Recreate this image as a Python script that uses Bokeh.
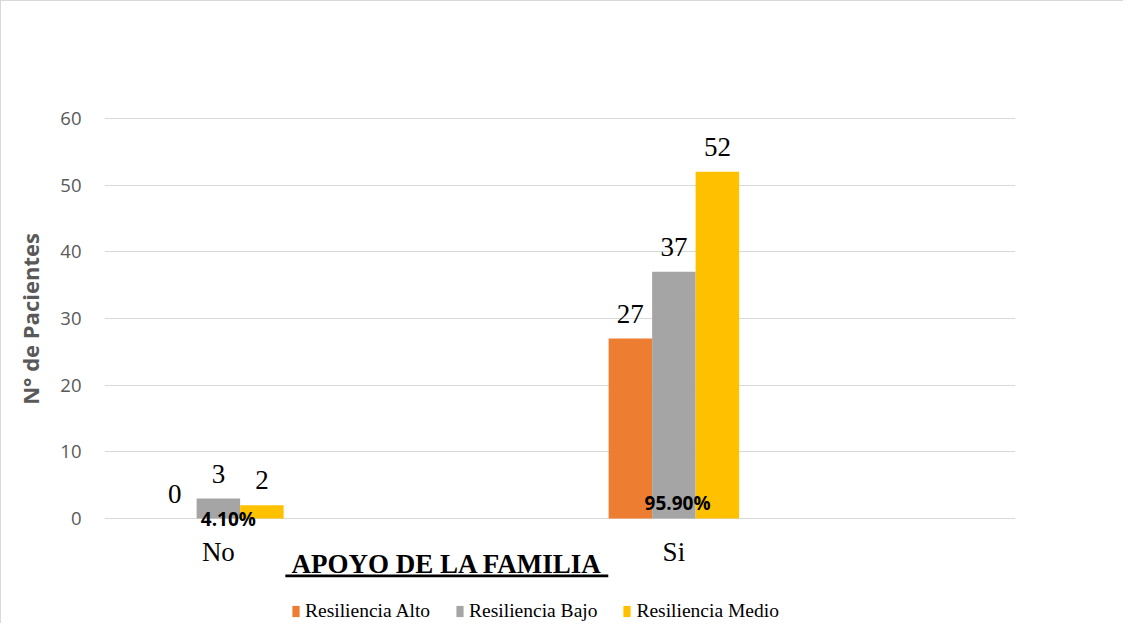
from bokeh.plotting import figure
from bokeh.models import (ColumnDataSource, Range1d, LabelSet, Label, Legend,
                          LegendItem, BoxAnnotation, FixedTicker)
from bokeh.transform import dodge
from bokeh.core.properties import value
from bokeh.embed import file_html
from bokeh.resources import INLINE

# ---- data ----
categories = ["No", "Si"]
series_names = ["Resiliencia Alto", "Resiliencia Bajo", "Resiliencia Medio"]
alto = [0, 27]
bajo = [3, 37]
medio = [2, 52]
percentages = ["4.10%", "95.90%"]
y_ticks = [0, 10, 20, 30, 40, 50, 60]
colors = ["#ED7D31", "#A5A5A5", "#FFC000"]
axis_title = "APOYO DE LA FAMILIA"

pos = list(range(len(categories)))
src = ColumnDataSource(dict(
    x=pos, cat=categories, zero=[0] * len(pos), alto=alto, bajo=bajo, medio=medio,
    alto_t=[str(v) for v in alto], bajo_t=[str(v) for v in bajo],
    medio_t=[str(v) for v in medio],
))

p = figure(width=1123, height=623, output_backend="svg", toolbar_location=None,
           x_range=Range1d(-0.25, 1.75), y_range=Range1d(-15.9, 75.75),
           min_border_left=103, min_border_right=109, min_border_top=12,
           min_border_bottom=0)
p.styles = {"border-left": "1px solid #d9d9d9", "border-top": "1px solid #d9d9d9"}
p.outline_line_color = None
p.background_fill_color = "white"

bw = 0.0955
offs = [-bw, 0.0, bw]
fields = ["alto", "bajo", "medio"]
renderers = []
for f, o, c in zip(fields, offs, colors):
    r = p.vbar(x=dodge("x", o, range=p.x_range), top=f, width=bw, bottom=0,
               source=src, fill_color=c, line_color=None)
    renderers.append(r)
    lbl = LabelSet(x=dodge("x", o, range=p.x_range), y=f, text=f + "_t", source=src,
                   text_align="center", text_baseline="alphabetic", y_offset=16,
                   text_font=value("Liberation Serif"), text_font_size="27px",
                   text_color="black")
    p.add_layout(lbl)

# category labels (x axis)
p.add_layout(LabelSet(x="x", y="zero", text="cat", source=src, text_align="center",
                      text_baseline="alphabetic", y_offset=-42,
                      text_font=value("Liberation Serif"), text_font_size="27px",
                      text_color="black"))

# percentage labels
pct_pos = [(0.022, -0.08), (0.008, 2.4)]
for i, (t, (dx, yy)) in enumerate(zip(percentages, pct_pos)):
    p.add_layout(Label(x=pos[i] + dx, y=yy, text=t, text_align="center",
                       text_baseline="middle", text_font="Open Sans",
                       text_font_style="bold", text_font_size="19px",
                       text_color="black"))

# axes
p.xaxis.visible = False

p.yaxis.ticker = FixedTicker(ticks=y_ticks)
p.yaxis.axis_line_color = None
p.yaxis.major_tick_line_color = None
p.yaxis.minor_tick_line_color = None
p.yaxis.major_label_text_font = "Open Sans"
p.yaxis.major_label_text_font_size = "18.5px"
p.yaxis.major_label_text_color = "#595959"
p.yaxis.major_label_standoff = 17
p.yaxis.axis_label = "N° de Pacientes"
p.yaxis.axis_label_text_font = "Open Sans"
p.yaxis.axis_label_text_font_style = "bold"
p.yaxis.axis_label_text_font_size = "22px"
p.yaxis.axis_label_text_color = "#595959"
p.yaxis.axis_label_standoff = 12

p.xgrid.grid_line_color = None
p.ygrid.ticker = FixedTicker(ticks=y_ticks)
p.ygrid.grid_line_color = "#d9d9d9"
p.ygrid.grid_line_width = 1

# axis title (underlined)
p.add_layout(Label(x=0.5017, y=-6.8, text=axis_title, text_align="center",
                   text_baseline="alphabetic", text_font="Liberation Serif",
                   text_font_style="bold", text_font_size="27px", text_color="black"))
p.add_layout(BoxAnnotation(left=0.147, right=0.856, top=-8.4, bottom=-8.8,
                           fill_color="black", fill_alpha=1.0, line_color=None))

legend = Legend(items=[LegendItem(label=n, renderers=[r]) for n, r in zip(series_names, renderers)],
                orientation="horizontal", location=(187, 2),
                label_text_font="Liberation Serif", label_text_font_size="19.5px",
                label_text_color="black", glyph_width=9, glyph_height=14,
                label_standoff=5, spacing=25, padding=0, margin=0,
                border_line_color=None, background_fill_alpha=0, label_height=20)
p.add_layout(legend, "center")

open("out.html", "w").write(file_html(p, INLINE))
